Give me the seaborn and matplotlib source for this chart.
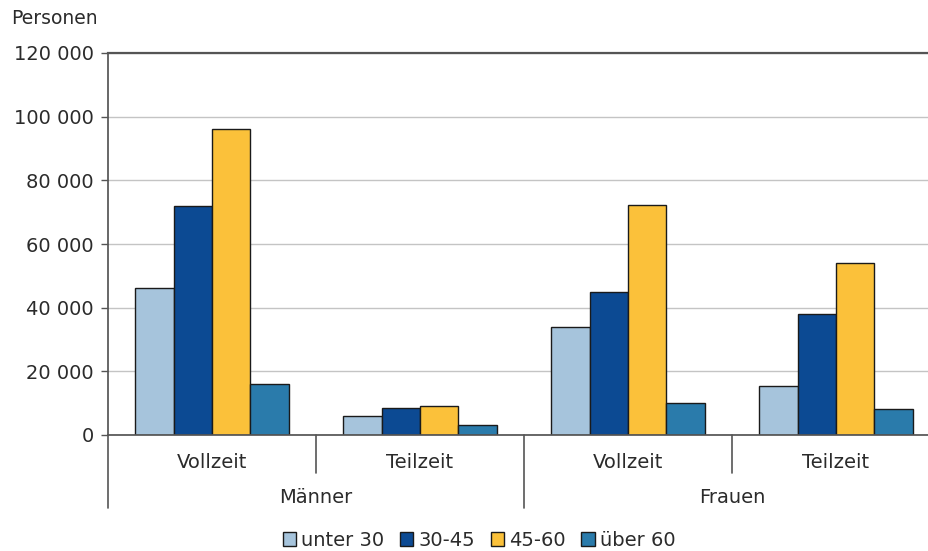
import pandas as pd
import matplotlib.pyplot as plt
import seaborn as sns
from matplotlib.ticker import FuncFormatter
from matplotlib.transforms import blended_transform_factory

# Daten
gruppen = ["Männer", "Männer", "Frauen", "Frauen"]
arbeitszeit = ["Vollzeit", "Teilzeit", "Vollzeit", "Teilzeit"]
altersklassen = ["unter 30", "30-45", "45-60", "über 60"]
werte = {
    "unter 30": [46300, 6100, 33900, 15400],
    "30-45": [71800, 8400, 44900, 38000],
    "45-60": [96000, 9100, 72300, 54000],
    "über 60": [16000, 3000, 9900, 8100],
}
farben = ["#a6c4dc", "#0c4a93", "#fbc13a", "#2a7bab"]

keys = [f"{g} {a}" for g, a in zip(gruppen, arbeitszeit)]
rows = []
for alter in altersklassen:
    for k, v in zip(keys, werte[alter]):
        rows.append({"kat": k, "alter": alter, "personen": v})
df = pd.DataFrame(rows)

sns.set_theme(style="white")
plt.rcParams["font.family"] = ["DejaVu Sans"]
textfarbe = "#2b2b2b"

fig = plt.figure(figsize=(9.29, 5.51), dpi=100)
ax = fig.add_axes([108 / 929, 1 - 435 / 551, 832 / 929, 382 / 551])

sns.barplot(data=df, x="kat", y="personen", hue="alter", order=keys,
            hue_order=altersklassen, palette=farben, width=0.74,
            edgecolor="#1a1a1a", linewidth=1, saturation=1, ax=ax, legend=True)

ax.set_ylim(0, 120000)
ax.set_xlim(-0.5, 3.5)
ax.set_yticks(range(0, 120001, 20000))
ax.yaxis.set_major_formatter(FuncFormatter(lambda v, p: f"{int(v):,}".replace(",", " ")))
ax.grid(axis="y", color="#c4c4c4", linewidth=1)
ax.set_axisbelow(True)
ax.set_xlabel("")
ax.set_ylabel("")

ax.spines["right"].set_visible(False)
ax.spines["top"].set_color("#555555")
ax.spines["top"].set_linewidth(1.6)
ax.spines["left"].set_color("#555555")
ax.spines["bottom"].set_color("#555555")

ax.tick_params(axis="y", length=5, width=1, color="#555555", labelsize=14,
               labelcolor=textfarbe, left=True, direction="out", pad=5)
ax.set_xticks(range(4))
ax.set_xticklabels(arbeitszeit)
ax.tick_params(axis="x", length=0, labelsize=14, labelcolor=textfarbe, pad=13)

# Trennlinien unter der Achse
trans = blended_transform_factory(ax.transData, ax.transAxes)
for x, unten in [(-0.5, -0.191), (0.5, -0.0995), (1.5, -0.191), (2.5, -0.0995)]:
    ax.plot([x, x], [0, unten], color="#555555", linewidth=1.2,
            transform=trans, clip_on=False)

ax.text(0.5, -0.164, "Männer", transform=trans, ha="center", va="center",
        fontsize=14, color=textfarbe)
ax.text(2.5, -0.164, "Frauen", transform=trans, ha="center", va="center",
        fontsize=14, color=textfarbe)

fig.text(11 / 929, 1 - 19 / 551, "Personen", ha="left", va="center",
         fontsize=13.5, color=textfarbe)

handles, labels = ax.get_legend_handles_labels()
ax.get_legend().remove()
fig.legend(handles, labels, loc="center", bbox_to_anchor=(479 / 929, 11 / 551),
           ncol=4, frameon=False, fontsize=14, handlelength=0.7,
           handleheight=0.7, handletextpad=0.25, columnspacing=0.8,
           labelcolor=textfarbe)

fig.savefig("out.png", dpi=100)
